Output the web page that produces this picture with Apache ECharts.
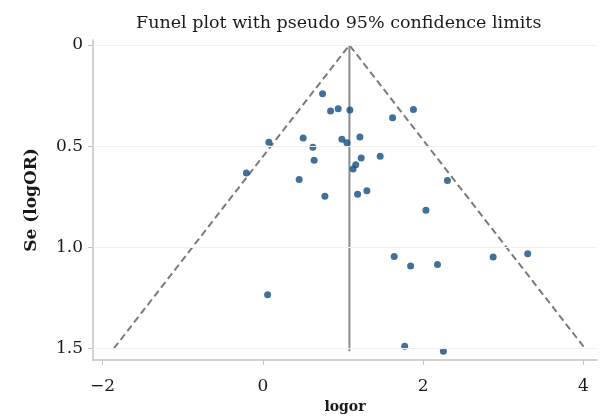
<!DOCTYPE html>
<html>
<head>
<meta charset="utf-8">
<script src="https://cdn.jsdelivr.net/npm/echarts@6/dist/echarts.min.js"></script>
<style>
  html, body { margin: 0; padding: 0; background: #fff; }
  #main { width: 608px; height: 419px; }
</style>
</head>
<body>
<div id="main"></div>
<script>
// study estimates
var logor = [0.745, 0.845, 0.94, 1.086, 1.619, 1.879, 0.075, 0.503, 0.624, 0.986,
             1.049, 1.211, 0.64, 1.227, 1.464, -0.206, 1.159, 1.126, 0.453, 2.303,
             0.774, 1.182, 1.298, 2.035, 1.639, 1.844, 2.179, 2.874, 3.305, 0.059,
             1.77, 2.253];
var seLogor = [0.241, 0.326, 0.315, 0.321, 0.359, 0.319, 0.481, 0.46, 0.505, 0.466,
               0.483, 0.455, 0.57, 0.558, 0.55, 0.632, 0.592, 0.613, 0.665, 0.67,
               0.747, 0.738, 0.72, 0.817, 1.045, 1.092, 1.085, 1.048, 1.032, 1.234,
               1.489, 1.514];
var pooled = 1.08;
var seLimit = 1.5;
var xTicks = [-2, 0, 2, 4];
var yTicks = [0, 0.5, 1.0, 1.5];

var serif = 'DejaVu Serif';
var chart = echarts.init(document.getElementById('main'));

var pts = logor.map(function (v, i) { return [v, seLogor[i]]; });
var seMax = Math.max.apply(null, seLogor);
var funnel = [
  [pooled - 1.96 * seLimit, seLimit],
  [pooled, 0],
  [pooled + 1.96 * seLimit, seLimit]
];

var option = {
  backgroundColor: '#fff',
  animation: false,
  title: {
    text: 'Funel plot with pseudo 95% confidence limits',
    left: 131,
    top: 9,
    textStyle: { fontFamily: serif, fontSize: 17.5, fontWeight: 'normal', color: '#1a1a1a' }
  },
  grid: { left: 93, right: 11, top: 40, bottom: 56 },
  xAxis: {
    type: 'value',
    min: -2.12,
    max: 4.17,
    name: 'logor',
    nameLocation: 'middle',
    nameGap: 40,
    nameTextStyle: { fontFamily: serif, fontSize: 14, fontWeight: 'bold', color: '#1a1a1a' },
    axisLine: { onZero: false, lineStyle: { color: '#c4c4c4', width: 1.5 } },
    axisTick: { length: 5, customValues: xTicks, lineStyle: { color: '#c4c4c4' } },
    axisLabel: {
      customValues: xTicks,
      margin: 18,
      fontFamily: serif, fontSize: 17, color: '#1a1a1a',
      formatter: function (v) { return v < 0 ? '\u2212' + Math.abs(v) : String(v); }
    },
    splitLine: { show: false }
  },
  yAxis: {
    type: 'value',
    inverse: true,
    min: -0.025,
    max: 1.557,
    name: 'Se (logOR)',
    nameLocation: 'middle',
    nameGap: 53,
    nameTextStyle: { fontFamily: serif, fontSize: 17, fontWeight: 'bold', color: '#1a1a1a' },
    axisLine: { show: true, onZero: false, lineStyle: { color: '#c4c4c4', width: 1.5 } },
    axisTick: { show: true, length: 5, customValues: yTicks, lineStyle: { color: '#c4c4c4' } },
    axisLabel: {
      customValues: yTicks,
      margin: 10,
      fontFamily: serif, fontSize: 17, color: '#1a1a1a',
      formatter: function (v) { return v === 0 ? '0' : v.toFixed(1); }
    },
    splitLine: { show: false }
  },
  series: [
    {
      type: 'line',
      data: funnel,
      symbol: 'none',
      silent: true,
      lineStyle: { color: '#7a7a7a', width: 2, type: [7, 4] },
      markLine: {
        silent: true,
        symbol: 'none',
        label: { show: false },
        lineStyle: { color: '#efefef', width: 1, type: 'solid' },
        data: yTicks.map(function (t) { return { yAxis: t }; })
      },
      z: 2
    },
    {
      type: 'line',
      data: [[pooled, 0], [pooled, seMax]],
      symbol: 'none',
      silent: true,
      lineStyle: { color: '#8c8c8c', width: 2 },
      z: 2
    },
    {
      type: 'scatter',
      data: pts,
      symbolSize: 7,
      itemStyle: { color: '#124d80' },
      z: 3
    }
  ]
};
chart.setOption(option);
</script>
</body>
</html>
